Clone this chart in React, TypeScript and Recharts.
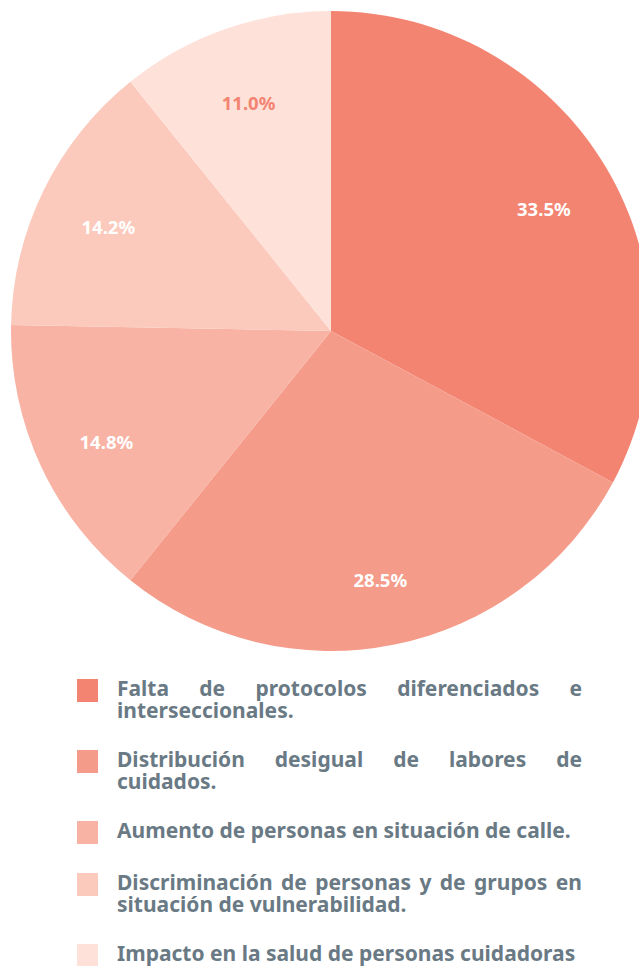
import { PieChart, Pie, Cell, Legend } from 'recharts';

const CATEGORIES = [
  'Falta de protocolos diferenciados e interseccionales.',
  'Distribución desigual de labores de cuidados.',
  'Aumento de personas en situación de calle.',
  'Discriminación de personas y de grupos en situación de vulnerabilidad.',
  'Impacto en la salud de personas cuidadoras',
];
const VALUES = [33.5, 28.5, 14.8, 14.2, 11.0];
const COLORS = ['#F48472', '#F59B8A', '#F8B3A4', '#FBCABD', '#FEE2DA'];
const LABEL_COLORS = ['#FFFFFF', '#FFFFFF', '#FFFFFF', '#FFFFFF', '#F48472'];

const data = CATEGORIES.map((name, i) => ({ name, value: VALUES[i] }));

const RADIAN = Math.PI / 180;
const FONT = '"Noto Sans", "Open Sans", sans-serif';

const renderLabel = (props: any) => {
  const { cx, cy, midAngle, outerRadius, index, value } = props;
  const r = outerRadius * 0.775;
  const x = cx + r * Math.cos(-midAngle * RADIAN);
  const y = cy + r * Math.sin(-midAngle * RADIAN) + 5;
  return (
    <text
      x={x}
      y={y}
      fill={LABEL_COLORS[index]}
      textAnchor="middle"
      dominantBaseline="central"
      style={{ fontFamily: FONT, fontWeight: 700, fontSize: 18.5 }}
    >
      {`${Number(value).toFixed(1)}%`}
    </text>
  );
};

const renderLegend = () => (
  <div style={{ fontFamily: FONT }}>
    {CATEGORIES.map((name, i) => (
      <div key={i} style={{ display: 'flex', alignItems: 'flex-start', marginBottom: 27 }}>
        <div style={{ width: 21, height: 23, background: COLORS[i], marginTop: 2, flexShrink: 0 }} />
        <div
          style={{
            marginLeft: 19,
            width: 465,
            fontSize: 21,
            lineHeight: '22px',
            fontWeight: 700,
            color: '#6A7A85',
            textAlign: 'justify',
          }}
        >
          {name}
        </div>
      </div>
    ))}
  </div>
);

export default function App() {
  return (
    <div style={{ position: 'absolute', left: 0, top: 0, width: 639, height: 966, background: '#fff', overflow: 'hidden' }}>
      <PieChart width={639} height={966} margin={{ top: 0, right: 0, bottom: 0, left: 0 }}>
        <Pie
          data={data}
          dataKey="value"
          nameKey="name"
          cx={331}
          cy={331}
          outerRadius={320}
          startAngle={90}
          endAngle={-270}
          stroke="none"
          label={renderLabel}
          labelLine={false}
          isAnimationActive={false}
        >
          {data.map((_, i) => (
            <Cell key={i} fill={COLORS[i]} />
          ))}
        </Pie>
        <Legend
          content={renderLegend}
          wrapperStyle={{ position: 'absolute', left: 77, top: 677, width: 510 }}
        />
      </PieChart>
    </div>
  );
}
